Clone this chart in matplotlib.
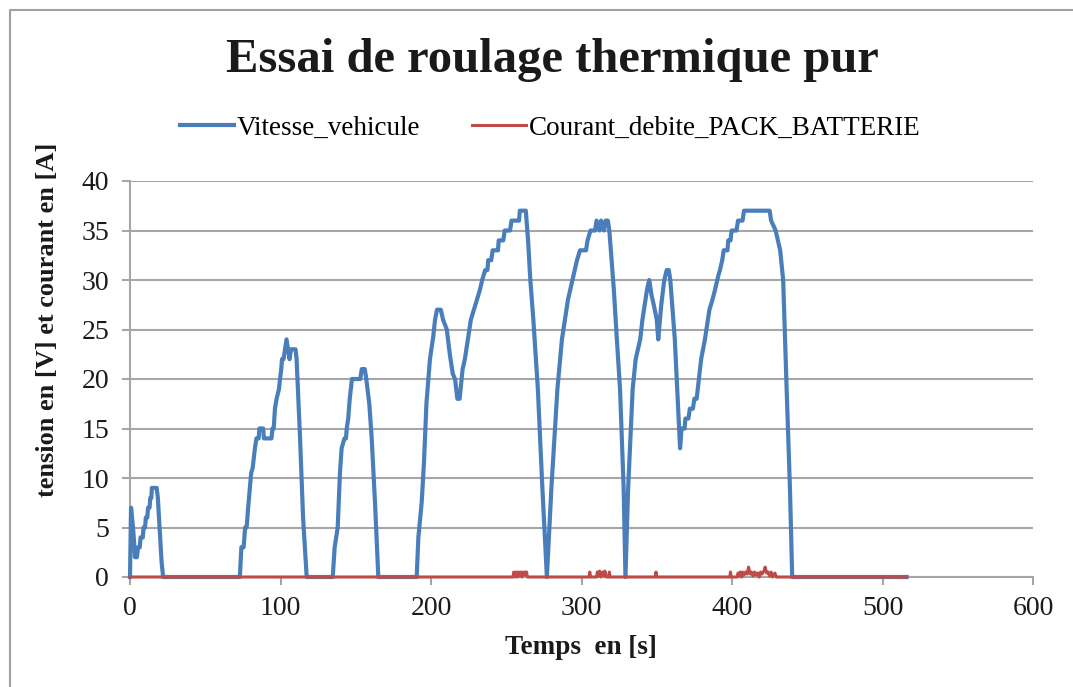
import matplotlib.pyplot as plt
from matplotlib.lines import Line2D

TITLE = "Essai de roulage thermique pur"
XLABEL = "Temps  en [s]"
YLABEL = "tension en [V] et courant en [A]"
SERIES = ["Vitesse_vehicule", "Courant_debite_PACK_BATTERIE"]

# vehicle speed, (time [s], value) knots
VITESSE = [
    (0, 0), (0.7, 7), (2, 5), (3, 3), (3.3, 2), (4.6, 2), (5.3, 3), (6.5, 3),
    (7, 4), (8.5, 4), (9, 5), (10, 5), (10.5, 6), (11.5, 6), (12, 7), (13, 7),
    (13.5, 8), (14.2, 8), (14.5, 9), (17.7, 9), (18.5, 8), (21, 1.5), (22, 0),
    (73, 0), (74, 3), (75.5, 3), (76.5, 5), (77.5, 5), (78.5, 7), (80.5, 10.5),
    (81.5, 11), (83, 13), (84, 14), (85.5, 14), (86, 15), (88.5, 15), (89, 14),
    (94, 14), (94.7, 15), (95.5, 15), (96.3, 17), (97.4, 18), (99, 19),
    (99.7, 20), (100.5, 21), (101, 22), (102, 22), (103, 23), (104, 24),
    (105, 23), (106, 22), (107, 23), (110, 23), (110.7, 22), (113, 14),
    (115, 6), (117.4, 0),
    (134.7, 0), (136, 3), (137, 4), (138, 5), (139.5, 10.5), (140.6, 13),
    (142.5, 14), (143.5, 14), (144, 15), (145, 16), (146, 18), (147.5, 20),
    (153, 20), (154, 21), (156, 21), (157, 20), (159, 17.5), (160.6, 14),
    (162.8, 7.5), (165, 0),
    (190.5, 0), (191.6, 4), (193.8, 7.5), (195.3, 11.5), (197, 17.6),
    (199.3, 22), (201.5, 24.3), (202.7, 26), (204, 27), (206.5, 27), (208, 26),
    (210.5, 25), (212.5, 22.5), (214.5, 20.5), (216, 20), (217.5, 18),
    (219, 18), (221, 21), (222.5, 22), (224.5, 24), (226.5, 26), (228.5, 27),
    (230.5, 28), (232.5, 29), (234, 30), (236, 31), (237.5, 31), (238, 32),
    (240, 32), (241, 33), (244.5, 33), (245, 34), (248, 34), (249, 35),
    (252.5, 35), (253.5, 36), (258.5, 36), (259, 37), (263, 37), (264.5, 34),
    (266, 30), (268, 26), (271, 19), (274, 9), (277, 0),
    (280, 9), (284, 19), (287, 24), (289, 26), (291, 28), (292.5, 29),
    (294, 30), (295.5, 31), (297, 32), (299, 33), (303, 33), (304, 34),
    (306, 35), (309, 35), (310, 36), (312, 35), (313, 36), (315, 35),
    (316, 36), (317.5, 36), (318.5, 35), (320, 32), (321.5, 29), (323.5, 24),
    (325.6, 19), (328, 9), (329.2, 0),
    (331, 9), (334, 19), (336, 22), (339, 24), (340.5, 26), (342, 27.5),
    (343.5, 29), (345, 30), (346.5, 28.5), (348, 27.5), (350, 26), (351, 24),
    (353, 27.5), (355, 30), (356.6, 31), (358, 31), (359, 30), (362, 24),
    (365.5, 13), (366.5, 15), (368.5, 15), (369, 16), (371, 16), (372, 17),
    (374, 17), (375, 18), (376.5, 18), (378.7, 21), (379.5, 22), (382, 24),
    (385, 27), (387, 28), (388.7, 29), (391, 30.5), (392, 31), (393.5, 32),
    (394.5, 33), (397, 33), (397.5, 34), (399, 34), (399.8, 35), (403, 35),
    (404, 36), (407, 36), (408, 37), (425, 37), (426, 36), (429, 35),
    (432, 33), (434, 30), (436.3, 19), (438.5, 9), (440, 0),
    (516, 0),
]

# battery pack current, (time [s], value) knots
COURANT = [
    (0, 0), (254.5, 0), (255, 0.5), (256, 0), (256.5, 0.5), (257.5, 0),
    (258, 0.5), (259, 0.1), (259.5, 0.5), (260.5, 0), (261, 0.5), (262, 0.2),
    (262.5, 0.5), (263.5, 0.5), (264, 0),
    (305, 0), (305.5, 0.5), (306, 0), (310, 0), (310.5, 0.5), (311.5, 0.1),
    (312, 0.6), (313, 0), (314, 0.5), (315, 0.1), (315.5, 0.6), (316.5, 0),
    (318, 0), (318.5, 0.5), (319, 0), (349, 0), (349.5, 0.5), (350, 0),
    (398.5, 0), (399, 0.5), (399.5, 0), (403.5, 0), (404, 0.4), (405, 0.1),
    (405.5, 0.5), (406.5, 0), (407, 0.5), (408, 0.2), (409, 0.5), (410, 0.3),
    (411, 1.0), (412, 0.3), (413, 0.5), (414, 0.1), (415, 0.5), (416, 0.2),
    (417, 0.4), (418, 0), (419, 0.5), (420, 0.3), (421.5, 0.7), (422, 1.0),
    (423, 0.4), (424, 0.5), (425, 0.1), (426, 0.5), (427, 0), (428.5, 0.4),
    (429.5, 0), (516, 0),
]

BLUE = "#4a7ebb"
RED = "#be4b48"
GRID = "#a6a6a6"
INK = "#1a1a1a"


def main():
    plt.rcParams["font.family"] = ["Liberation Serif", "DejaVu Serif"]

    fig = plt.figure(figsize=(10.73, 6.87), dpi=100)
    ax = fig.add_axes([130 / 1073, 110 / 687, 903 / 1073, 396 / 687])

    t1, v1 = zip(*VITESSE)
    t2, v2 = zip(*COURANT)
    ax.plot(t1, v1, color=BLUE, lw=3.0, clip_on=False, zorder=3)
    ax.plot(t2, v2, color=RED, lw=2.2, clip_on=False, zorder=4)

    ax.set_xlim(0, 600)
    ax.set_ylim(0, 40)
    ax.set_xticks(range(0, 601, 100))
    ax.set_yticks(range(0, 41, 5))
    ax.grid(axis="y", color=GRID, lw=1.5)
    ax.set_axisbelow(True)
    for side in ["top", "right"]:
        ax.spines[side].set_visible(False)
    for side in ["left", "bottom"]:
        ax.spines[side].set_color(GRID)
        ax.spines[side].set_linewidth(1.5)
    ax.tick_params(length=6, width=1.5, color=GRID, labelsize=20,
                   labelcolor=INK)
    ax.tick_params(axis="y", pad=9)
    ax.tick_params(axis="x", pad=8)

    fig.text(0.5 + 16 / 1073, 1 - 60 / 687, TITLE, ha="center", va="center",
             fontsize=35, fontweight="bold", color=INK)
    fig.text(581 / 1073, 1 - 648 / 687, XLABEL, ha="center", va="center",
             fontsize=19.5, fontweight="bold", color=INK)
    fig.text(48 / 1073, 1 - 320 / 687, YLABEL, ha="center", va="center",
             rotation=90, fontsize=19, fontweight="bold", color=INK)

    handles = [Line2D([], [], color=BLUE, lw=3.0),
               Line2D([], [], color=RED, lw=2.2)]
    fig.legend(handles, SERIES, loc="center",
               bbox_to_anchor=(550 / 1073, 1 - 128 / 687), ncol=2,
               frameon=False, fontsize=19.5, handlelength=2.0,
               handletextpad=0.1, columnspacing=1.9)

    # outer chart frame, only the left and top edges are in view
    fig.add_artist(Line2D([10 / 1073, 10 / 1073, 1], [0, 1 - 10 / 687, 1 - 10 / 687],
                          transform=fig.transFigure, color="#a0a0a0", lw=1.5))

    fig.savefig("out.png", dpi=100)


if __name__ == "__main__":
    main()
